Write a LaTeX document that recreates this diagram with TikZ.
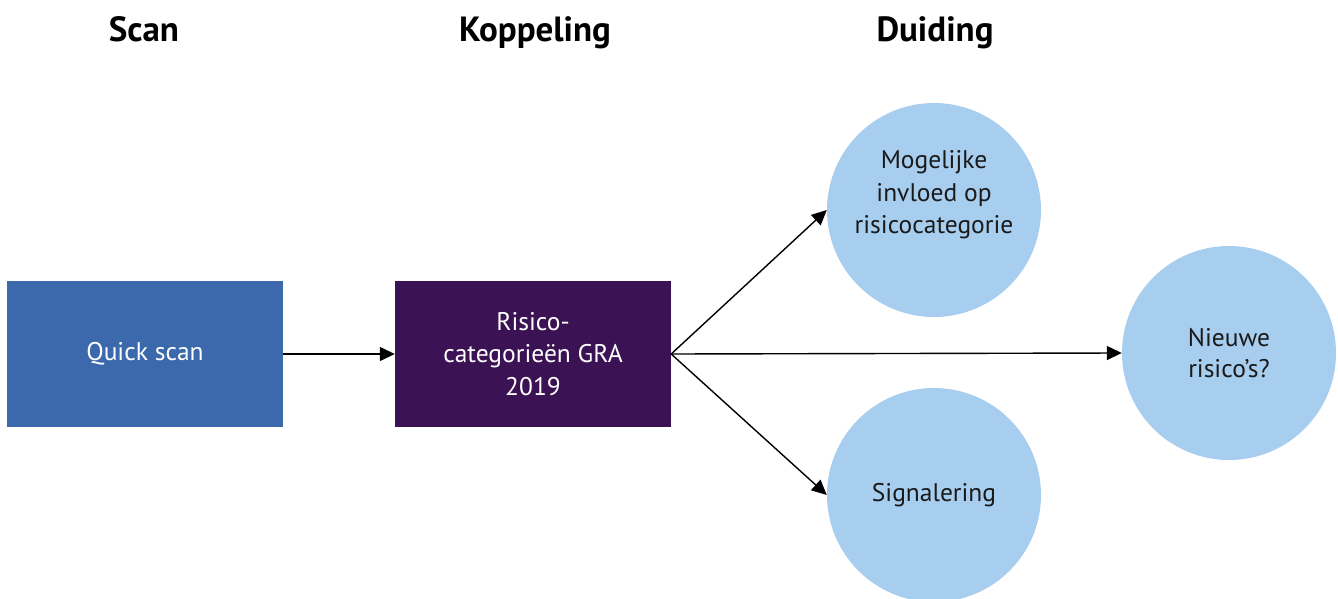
\documentclass[tikz,border=0pt]{standalone}
\usepackage{fontspec}
\setmainfont{PT Sans}
\usetikzlibrary{arrows.meta}
\definecolor{scanblue}{HTML}{3C68AC}
\definecolor{koppurple}{HTML}{3B1253}
\definecolor{duidblue}{HTML}{A8CEEF}
\definecolor{txtdark}{HTML}{1A1A1A}
\tikzset{
  title/.style={font=\fontsize{35}{40}\selectfont\bfseries, text=black, anchor=base},
  boxnode/.style={minimum width=276pt, minimum height=146pt, inner sep=0pt, text=white, align=center, font=\fontsize{25.5}{32.5}\selectfont},
  circnode/.style={circle, fill=duidblue, minimum size=214pt, inner sep=0pt, text=txtdark, align=center, font=\fontsize{25.5}{31.5}\selectfont},
  circtext/.style={text=txtdark, align=center, font=\fontsize{25.5}{32.5}\selectfont, inner sep=0pt},
  conn/.style={draw=black, line width=1.4pt, -{Triangle[length=15pt,width=14pt]}}
}
\begin{document}
\begin{tikzpicture}[x=1pt,y=-1pt]
\useasboundingbox (0,0) rectangle (1338,599);
\node[title] (t1) at (144,42) {Scan};
\node[title] (t2) at (535,42) {Koppeling};
\node[title] (t3) at (935,42) {Duiding};
\node[boxnode, fill=scanblue] (qs) at (145,354) {Quick scan};
\node[boxnode, fill=koppurple] (rc) at (533,354) {Risico-\\categorieën GRA\\2019};
\node[circnode] (c1) at (934,210) {};
\node[circtext] (c1t) at (934,195) {Mogelijke\\invloed op\\risicocategorie};
\node[circnode] (c2) at (1229,353) {Nieuwe\\risico’s?};
\node[circnode] (c3) at (934,495) {Signalering};
\draw[conn] (qs.east) -- (rc.west);
\draw[conn] (rc.east) -- (c1.west);
\draw[conn] (rc.east) -- (c2.west);
\draw[conn] (rc.east) -- (c3.west);
\end{tikzpicture}
\end{document}
